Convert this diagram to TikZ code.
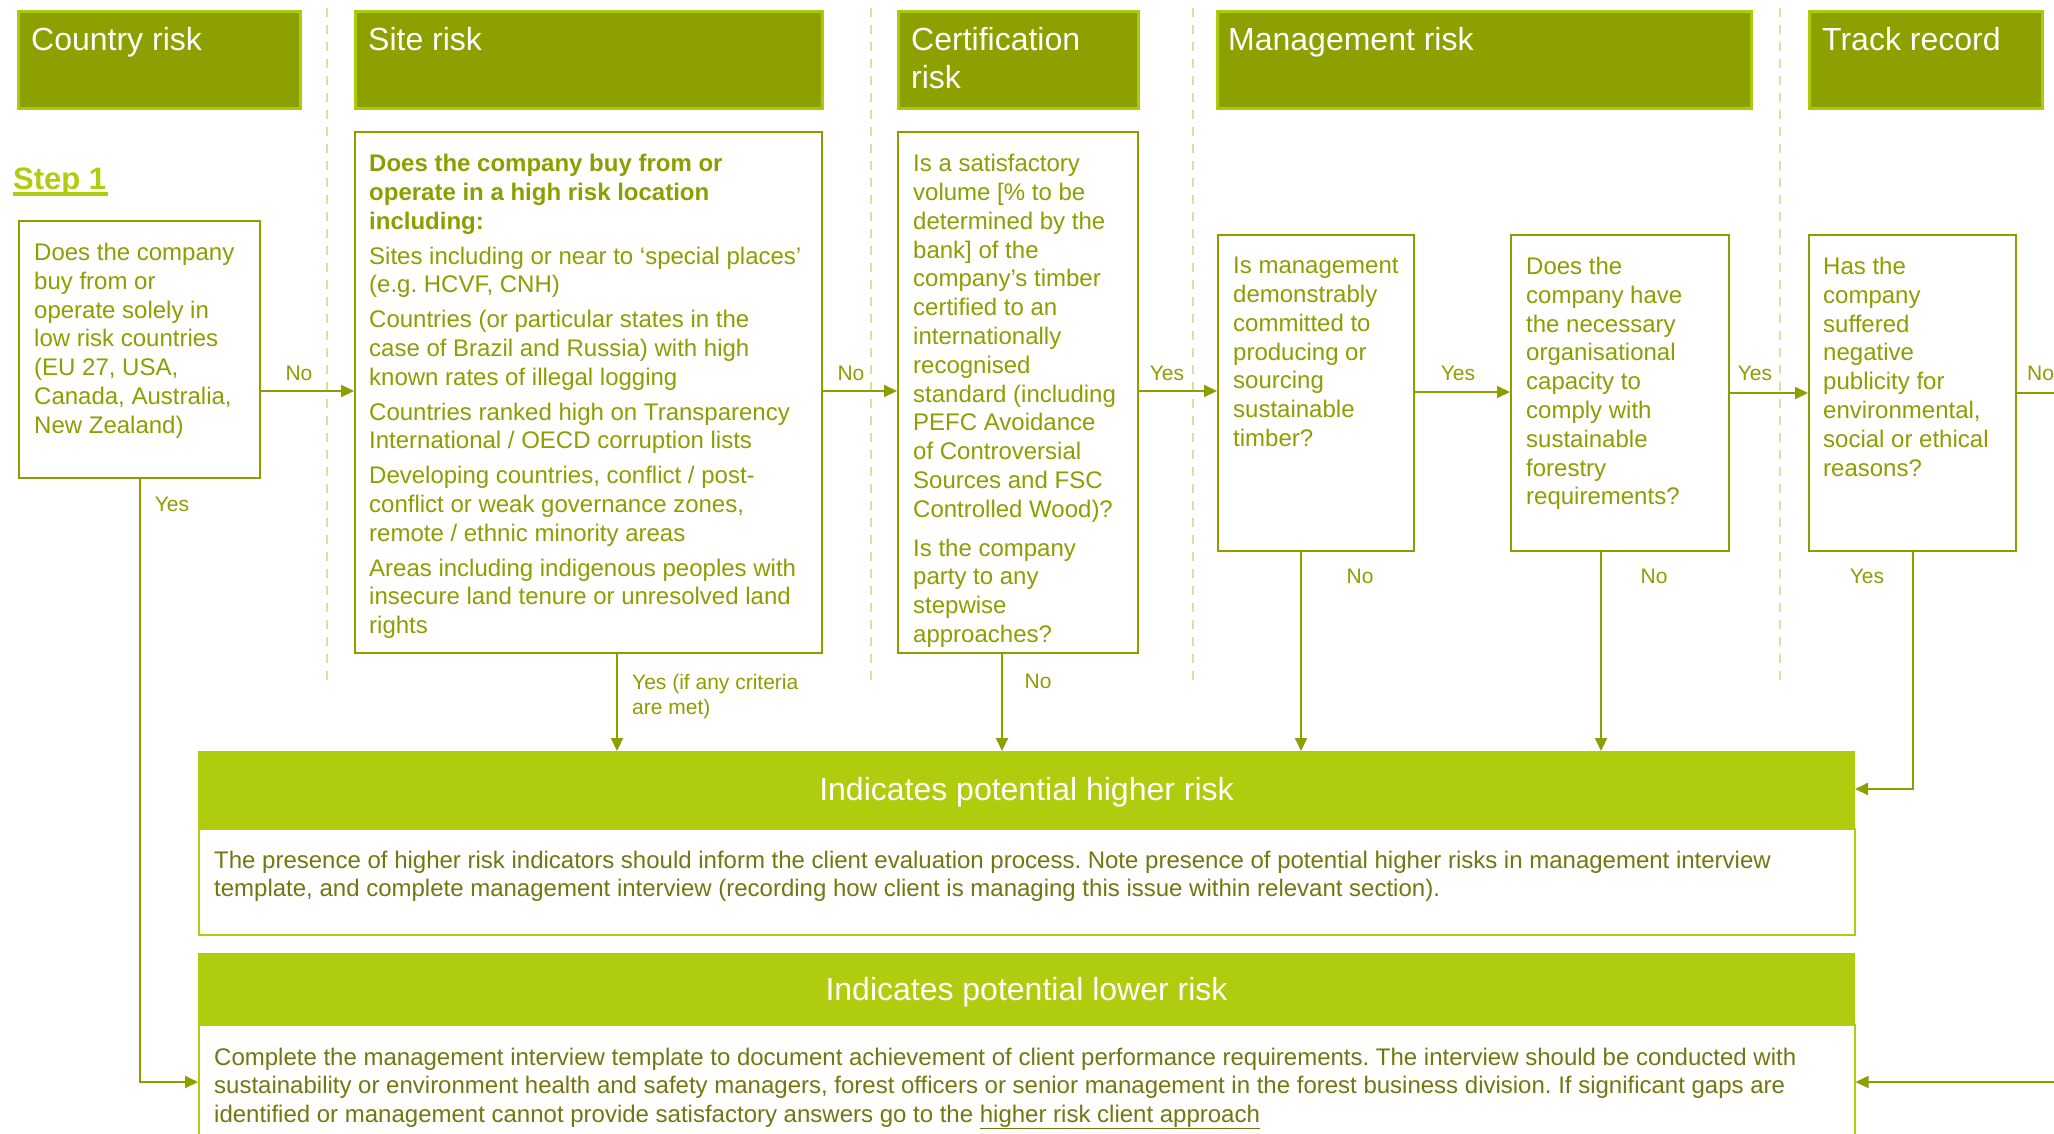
\documentclass[tikz,border=0pt]{standalone}
\usepackage{fontspec}
\setmainfont{Liberation Sans}
\usetikzlibrary{arrows.meta,calc}
\definecolor{hdrfill}{RGB}{141,160,0}
\definecolor{hdrline}{RGB}{172,202,12}
\definecolor{oliv}{RGB}{140,158,0}
\definecolor{lime}{RGB}{176,204,14}
\definecolor{bodytxt}{RGB}{116,118,16}
\definecolor{dashc}{RGB}{215,225,160}
\frenchspacing
\tikzset{
  hdrbox/.style={draw=hdrline, fill=hdrfill, line width=2.5pt, anchor=north west, inner sep=0pt},
  hdrtext/.style={text=white, anchor=north west, inner sep=0pt, align=left, font=\fontsize{32}{38}\selectfont},
  qbox/.style={draw=oliv, line width=2pt, anchor=north west, inner sep=0pt},
  qtext/.style={text=oliv, anchor=north west, inner sep=0pt, align=left, font=\fontsize{24}{28.8}\selectfont},
  banner/.style={fill=lime, draw=lime, line width=1pt, anchor=north west, inner sep=0pt, minimum width=1656pt},
  bannertext/.style={text=white, font=\fontsize{32}{38}\selectfont, inner sep=0pt},
  bodybox/.style={draw=lime, line width=1.5pt, fill=white, anchor=north west, inner sep=0pt, minimum width=1656pt},
  bodytext/.style={text=bodytxt, anchor=north west, inner sep=0pt, align=left, font=\fontsize{24}{28.2}\selectfont},
  lbl/.style={text=oliv, inner sep=0pt, font=\fontsize{21}{26}\selectfont},
  arr/.style={draw=oliv, line width=2pt, -{Triangle[length=13pt,width=12pt]}},
  sep/.style={draw=dashc, line width=1.5pt, dash pattern=on 9pt off 8pt},
}
\begin{document}
\begin{tikzpicture}[x=1pt,y=-1pt]
\useasboundingbox (0,0) rectangle (2054,1133);
\clip (0,0) rectangle (2054,1133);
\fill[white] (0,0) rectangle (2054,1133);

% dashed separators
\draw[sep] (327,8) -- (327,684);
\draw[sep] (871,8) -- (871,684);
\draw[sep] (1193,8) -- (1193,684);
\draw[sep] (1780,8) -- (1780,684);

% headers
\node[hdrbox, minimum width=282pt, minimum height=97pt] (h1) at (17,10) {};
\node[hdrbox, minimum width=467pt, minimum height=97pt] (h2) at (354,10) {};
\node[hdrbox, minimum width=240pt, minimum height=97pt] (h3) at (897,10) {};
\node[hdrbox, minimum width=534pt, minimum height=97pt] (h4) at (1216,10) {};
\node[hdrbox, minimum width=233pt, minimum height=97pt] (h5) at (1808,10) {};
\node[hdrtext] (h1t) at ([shift={(14,17)}]h1.north west) {Country risk};
\node[hdrtext] (h2t) at ([shift={(14,17)}]h2.north west) {Site risk};
\node[hdrtext] (h3t) at ([shift={(14,17)}]h3.north west) {Certification\\risk};
\node[hdrtext] (h4t) at ([shift={(12,17)}]h4.north west) {Management risk};
\node[hdrtext] (h5t) at ([shift={(14,17)}]h5.north west) {Track record};

% step 1
\node[anchor=base west, inner sep=0pt, text=lime, font=\bfseries\fontsize{31}{36}\selectfont] (step) at (13,189) {Step 1};
\draw[lime, line width=4pt] ([yshift=-5pt]step.base west) -- ([yshift=-5pt,xshift=2pt]step.base east);

% question boxes
\node[qbox, minimum width=241pt, minimum height=257pt] (cbox) at (18,220) {};
\node[qbox, minimum width=467pt, minimum height=521pt] (sbox) at (354,131) {};
\node[qbox, minimum width=240pt, minimum height=521pt] (rbox) at (897,131) {};
\node[qbox, minimum width=196pt, minimum height=316pt] (m1box) at (1217,234) {};
\node[qbox, minimum width=218pt, minimum height=316pt] (m2box) at (1510,234) {};
\node[qbox, minimum width=207pt, minimum height=316pt] (tbox) at (1808,234) {};

\node[qtext] (ct) at ([shift={(16,23)}]cbox.north west) {Does the company\\buy from or\\operate solely in\\low risk countries\\(EU 27, USA,\\Canada, Australia,\\New Zealand)};
\node[qtext] (st) at ([shift={(15,23)}]sbox.north west) {\textbf{Does the company buy from or}\\\textbf{operate in a high risk location}\\\textbf{including:}\\[6pt]Sites including or near to ‘special places’\\(e.g. HCVF, CNH)\\[6pt]Countries (or particular states in the\\case of Brazil and Russia) with high\\known rates of illegal logging\\[6pt]Countries ranked high on Transparency\\International / OECD corruption lists\\[6pt]Developing countries, conflict / post-\\conflict or weak governance zones,\\remote / ethnic minority areas\\[6pt]Areas including indigenous peoples with\\insecure land tenure or unresolved land\\rights};
\node[qtext] (rt) at ([shift={(16,23)}]rbox.north west) {Is a satisfactory\\volume [\% to be\\determined by the\\bank] of the\\company’s timber\\certified to an\\internationally\\recognised\\standard (including\\PEFC Avoidance\\of Controversial\\Sources and FSC\\Controlled Wood)?\\[10pt]Is the company\\party to any\\stepwise\\approaches?};
\node[qtext] (m1t) at ([shift={(16,23)}]m1box.north west) {Is management\\demonstrably\\committed to\\producing or\\sourcing\\sustainable\\timber?};
\node[qtext] (m2t) at ([shift={(16,23)}]m2box.north west) {Does the\\company have\\the necessary\\organisational\\capacity to\\comply with\\sustainable\\forestry\\requirements?};
\node[qtext] (tt) at ([shift={(15,23)}]tbox.north west) {Has the\\company\\suffered\\negative\\publicity for\\environmental,\\social or ethical\\reasons?};

% result banners
\node[banner, minimum height=77pt] (hib) at (198,751) {};
\node[bodybox, minimum height=106pt] (hibody) at (198,828) {};
\node[bannertext] (hit) at ([yshift=-2pt]hib.center) {Indicates potential higher risk};
\node[bodytext] (hibt) at ([shift={(16,23)}]hibody.north west) {The presence of higher risk indicators should inform the client evaluation process. Note presence of potential higher risks in management interview\\template, and complete management interview (recording how client is managing this issue within relevant section).};

\node[banner, minimum height=71pt] (lob) at (198,953) {};
\node[bodybox, minimum height=130pt] (lobody) at (198,1024) {};
\node[bannertext] (lot) at ([yshift=-3pt]lob.center) {Indicates potential lower risk};
\node[bodytext] (lobt) at ([shift={(16,24)}]lobody.north west) {Complete the management interview template to document achievement of client performance requirements. The interview should be conducted with\\sustainability or environment health and safety managers, forest officers or senior management in the forest business division. If significant gaps are\\identified or management cannot provide satisfactory answers go to the \underline{higher risk client approach}};

% helper coordinates
\coordinate (r1) at (0,391);
\coordinate (r2) at (0,392);
\coordinate (r3) at (0,393);
\coordinate (xs) at (617,0);
\coordinate (xr) at (1002,0);
\coordinate (xm1) at (1301,0);
\coordinate (xm2) at (1601,0);
\coordinate (ty) at (0,789);
\coordinate (ly) at (0,1082);
\coordinate (offr) at (2070,393);
\coordinate (offl) at (2070,1082);

% horizontal connectors
\draw[arr] (cbox.east |- r1) -- (sbox.west |- r1);
\draw[arr] (sbox.east |- r1) -- (rbox.west |- r1);
\draw[arr] (rbox.east |- r1) -- (m1box.west |- r1);
\draw[arr] (m1box.east |- r2) -- (m2box.west |- r2);
\draw[arr] (m2box.east |- r3) -- (tbox.west |- r3);
\draw[draw=oliv, line width=2pt] (tbox.east |- r3) -- (offr);

% vertical connectors
\draw[arr] (sbox.south -| xs) -- (hib.north -| xs);
\draw[arr] (rbox.south -| xr) -- (hib.north -| xr);
\draw[arr] (m1box.south -| xm1) -- (hib.north -| xm1);
\draw[arr] (m2box.south -| xm2) -- (hib.north -| xm2);
\draw[arr] (tbox.south) -- (tbox.south |- ty) -- (hib.east |- ty);
\draw[arr] (cbox.south) -- (cbox.south |- ly) -- (lobody.west |- ly);
\draw[arr] (offl) -- (lobody.east |- ly);

% labels
\node[lbl] (l1) at (299,373) {No};
\node[lbl] (l2) at (851,373) {No};
\node[lbl] (l3) at (1167,373) {Yes};
\node[lbl] (l4) at (1458,373) {Yes};
\node[lbl] (l5) at (1755,373) {Yes};
\node[lbl, anchor=west] (l6) at (2027,373) {No};
\node[lbl] (l7) at (172,504) {Yes};
\node[lbl, anchor=north west, align=left, font=\fontsize{21}{25}\selectfont] (l8) at (632,674) {Yes (if any criteria\\are met)};
\node[lbl] (l9) at (1038,681) {No};
\node[lbl] (l10) at (1360,576) {No};
\node[lbl] (l11) at (1654,576) {No};
\node[lbl] (l12) at (1867,576) {Yes};
\end{tikzpicture}
\end{document}
